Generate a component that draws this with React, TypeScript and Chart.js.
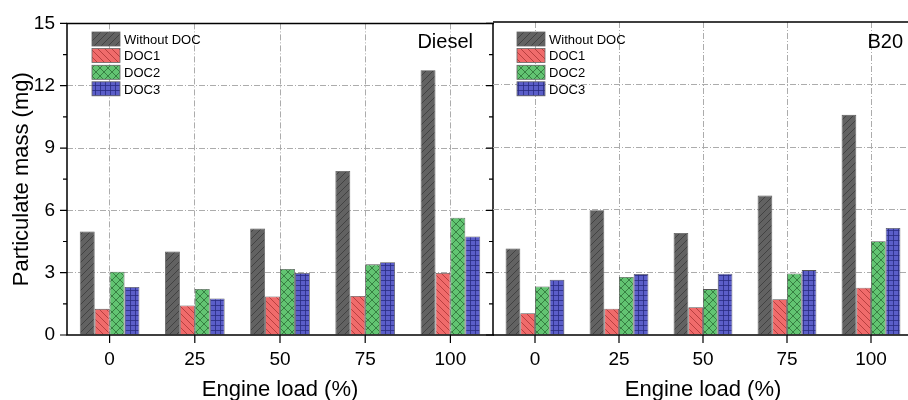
import React, { useEffect, useRef } from 'react';
import { Chart, registerables } from 'chart.js';

Chart.register(...registerables);

const loads = ['0', '25', '50', '75', '100'];
const seriesNames = ['Without DOC', 'DOC1', 'DOC2', 'DOC3'];

const dieselWithout = [4.98, 4.02, 5.13, 7.9, 12.75];
const dieselDoc1 = [1.26, 1.42, 1.85, 1.88, 2.99];
const dieselDoc2 = [3.05, 2.22, 3.18, 3.4, 5.65];
const dieselDoc3 = [2.31, 1.76, 2.99, 3.5, 4.74];

const b20Without = [4.15, 5.98, 4.89, 6.68, 10.55];
const b20Doc1 = [1.04, 1.26, 1.33, 1.71, 2.27];
const b20Doc2 = [2.33, 2.78, 2.2, 2.95, 4.49];
const b20Doc3 = [2.65, 2.92, 2.94, 3.11, 5.13];

const yMajorTicks = [0, 3, 6, 9, 12, 15];
const yMinorTicks = [1.5, 4.5, 7.5, 10.5, 13.5];

const FONT = "'Liberation Sans', Arial, Helvetica, sans-serif";

function makePattern(fill: string, line: string, kind: string): CanvasPattern | string {
  const s = kind === 'grid' ? 5 : kind === 'cross' ? 8 : 7;
  const c = document.createElement('canvas');
  c.width = s;
  c.height = s;
  const g = c.getContext('2d');
  if (!g) return fill;
  g.fillStyle = fill;
  g.fillRect(0, 0, s, s);
  g.strokeStyle = line;
  g.lineWidth = 0.8;
  g.beginPath();
  const fwd = () => {
    for (let k = -1; k <= 1; k++) {
      g.moveTo(k * s, s);
      g.lineTo(k * s + s, 0);
    }
  };
  const back = () => {
    for (let k = -1; k <= 1; k++) {
      g.moveTo(k * s, 0);
      g.lineTo(k * s + s, s);
    }
  };
  if (kind === 'fwd') fwd();
  if (kind === 'back') back();
  if (kind === 'cross') {
    fwd();
    back();
  }
  if (kind === 'grid') {
    g.moveTo(0, 0.5);
    g.lineTo(s, 0.5);
    g.moveTo(0.5, 0);
    g.lineTo(0.5, s);
  }
  g.stroke();
  const p = g.createPattern(c, 'repeat');
  return p || fill;
}

const seriesStyles = [
  { fill: '#626262', line: '#3a3a3a', kind: 'fwd' },
  { fill: '#f06b6b', line: '#a83333', kind: 'back' },
  { fill: '#62c472', line: '#2c6d36', kind: 'cross' },
  { fill: '#5b5ec9', line: '#2a2c82', kind: 'grid' },
];

function makeChart(canvas: HTMLCanvasElement, side: 'left' | 'right') {
  const isLeft = side === 'left';
  const data = isLeft
    ? [dieselWithout, dieselDoc1, dieselDoc2, dieselDoc3]
    : [b20Without, b20Doc1, b20Doc2, b20Doc3];
  const patterns = seriesStyles.map((s) => makePattern(s.fill, s.line, s.kind));
  const panelLabel = isLeft ? 'Diesel' : 'B20';
  const labelRight = isLeft ? 473 : 410;
  const legendX = isLeft ? 92 : 24;

  const decor = {
    id: 'decor' + side,
    afterDraw(chart: any) {
      const { ctx, chartArea } = chart;
      const { left, right, top, bottom } = chartArea;
      const x = chart.scales.x;
      const y = chart.scales.y;
      ctx.save();
      ctx.strokeStyle = '#000';
      ctx.lineWidth = 1.5;
      ctx.setLineDash([]);
      ctx.beginPath();
      ctx.moveTo(isLeft ? left - 0.75 : 0, top);
      ctx.lineTo(right + 2, top);
      ctx.moveTo(isLeft ? left - 0.75 : 0, bottom);
      ctx.lineTo(right + 2, bottom);
      if (isLeft) {
        ctx.moveTo(left, top);
        ctx.lineTo(left, bottom);
        ctx.moveTo(right, top);
        ctx.lineTo(right, bottom);
      }
      ctx.stroke();

      ctx.lineWidth = 1.2;
      ctx.beginPath();
      if (isLeft) {
        yMajorTicks.forEach((v) => {
          const py = y.getPixelForValue(v);
          ctx.moveTo(left - 7, py);
          ctx.lineTo(left, py);
          ctx.moveTo(right - 7, py);
          ctx.lineTo(right, py);
        });
        yMinorTicks.forEach((v) => {
          const py = y.getPixelForValue(v);
          ctx.moveTo(left - 4, py);
          ctx.lineTo(left, py);
          ctx.moveTo(right - 4, py);
          ctx.lineTo(right, py);
        });
      }
      loads.forEach((_, i) => {
        const px = x.getPixelForValue(i);
        ctx.moveTo(px, bottom);
        ctx.lineTo(px, bottom + 8);
      });
      ctx.stroke();

      ctx.fillStyle = '#000';
      ctx.font = `22px ${FONT}`;
      ctx.textAlign = 'center';
      ctx.textBaseline = 'alphabetic';
      ctx.fillText('Engine load (%)', (left + right) / 2, 396);
      if (isLeft) {
        ctx.save();
        ctx.translate(28, (top + bottom) / 2);
        ctx.rotate(-Math.PI / 2);
        ctx.fillText('Particulate mass (mg)', 0, 0);
        ctx.restore();
      }

      ctx.font = `20px ${FONT}`;
      ctx.textAlign = 'right';
      ctx.fillText(panelLabel, labelRight, 48);

      const rows = [39, 55.5, 72.3, 88.8];
      ctx.font = `13px ${FONT}`;
      ctx.textAlign = 'left';
      seriesNames.forEach((name, i) => {
        const cy = rows[i];
        ctx.fillStyle = patterns[i];
        ctx.fillRect(legendX, cy - 7, 28, 14);
        ctx.strokeStyle = '#666';
        ctx.lineWidth = 0.8;
        ctx.strokeRect(legendX, cy - 7, 28, 14);
        ctx.fillStyle = '#000';
        ctx.fillText(name, legendX + 32, cy + 4.7);
      });
      ctx.restore();
    },
  };

  return new Chart(canvas, {
    type: 'bar',
    data: {
      labels: loads,
      datasets: seriesNames.map((name, i) => ({
        label: name,
        data: data[i],
        backgroundColor: patterns[i],
        borderColor: '#555',
        borderWidth: 0.8,
        barPercentage: 1,
        categoryPercentage: 0.7,
      })),
    },
    options: {
      responsive: false,
      animation: false,
      layout: { padding: { top: 22, right: isLeft ? 1 : 0, left: 0, bottom: 0 } },
      plugins: { legend: { display: false }, tooltip: { enabled: false } },
      scales: {
        x: {
          type: 'category',
          offset: true,
          grid: { offset: false, drawTicks: false, color: '#acacac', lineWidth: 1 },
          border: { display: false, dash: [6, 2, 1, 2] },
          ticks: { color: '#000', font: { family: FONT, size: 19 }, padding: 13, maxRotation: 0 },
          afterFit: (s: any) => {
            s.height = 65;
          },
        },
        y: {
          min: 0,
          max: 15,
          grid: {
            drawTicks: false,
            color: (c: any) =>
              c.tick && (c.tick.value === 0 || c.tick.value === 15) ? 'rgba(0,0,0,0)' : '#acacac',
            lineWidth: 1,
          },
          border: { display: false, dash: [6, 2, 1, 2] },
          ticks: {
            display: isLeft,
            stepSize: 3,
            color: '#000',
            font: { family: FONT, size: 19 },
            padding: 12,
          },
          afterFit: (s: any) => {
            s.width = isLeft ? 67 : 0;
          },
        },
      },
    },
    plugins: [decor],
  } as any);
}

export default function App() {
  const leftRef = useRef<HTMLCanvasElement>(null);
  const rightRef = useRef<HTMLCanvasElement>(null);
  useEffect(() => {
    const charts: Chart[] = [];
    if (leftRef.current) charts.push(makeChart(leftRef.current, 'left'));
    if (rightRef.current) charts.push(makeChart(rightRef.current, 'right'));
    return () => charts.forEach((c) => c.destroy());
  }, []);
  return (
    <div
      style={{
        position: 'absolute',
        left: 0,
        top: 0,
        width: 908,
        height: 400,
        overflow: 'hidden',
        background: '#fff',
      }}
    >
      <canvas ref={leftRef} width={494} height={400} style={{ position: 'absolute', left: 0, top: 0 }} />
      <canvas ref={rightRef} width={420} height={400} style={{ position: 'absolute', left: 493, top: 0 }} />
    </div>
  );
}
